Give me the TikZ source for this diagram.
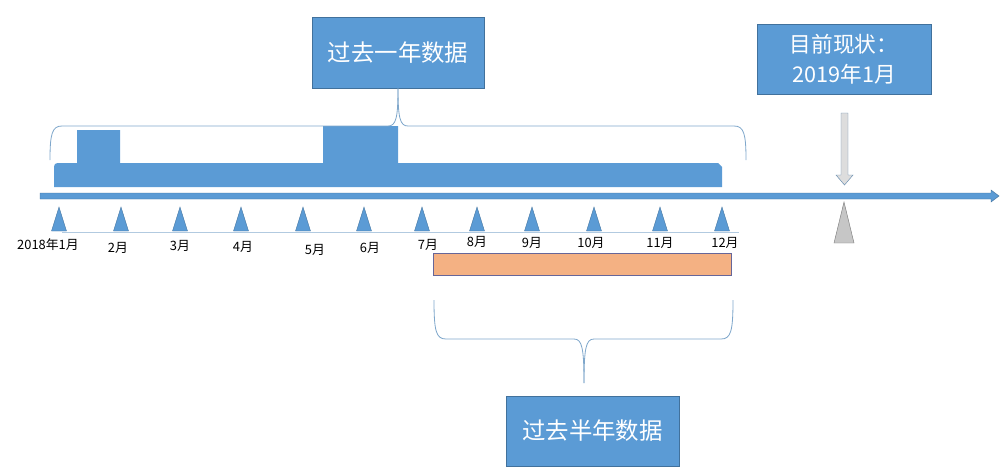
\documentclass[tikz,border=0pt]{standalone}
\usepackage{fontspec}
\setmainfont{Noto Sans CJK SC}
\definecolor{barblue}{HTML}{5B9BD5}
\definecolor{edgeblue}{HTML}{41719C}
\definecolor{bracecol}{HTML}{7FA7CB}
\definecolor{halfbar}{HTML}{F4B183}
\definecolor{nowgray}{HTML}{DDDDDD}

\begin{document}
\begin{tikzpicture}[x=0.03cm, y=-0.03cm,
    infobox/.style={draw=edgeblue, fill=barblue, line width=0.7pt, text=white, align=center, inner sep=0pt},
    tick/.style={fill=barblue, draw=edgeblue, line width=0.3pt},
    month/.style={font=\fontsize{11}{12}\selectfont, inner sep=0pt},
    curly/.style={draw=bracecol, line width=0.7pt}]
\useasboundingbox (0,0) rectangle (1005,474);

% boxes
\node[infobox, minimum width=5.16cm, minimum height=2.13cm, font=\fontsize{20}{24}\selectfont] (year) at (398,52.5) {过去一年数据};
\node[infobox, minimum width=5.22cm, minimum height=2.1cm, font=\fontsize{18.5}{25.5}\selectfont] (now) at (844,59) {目前现状：\\2019年1月};
\node[infobox, minimum width=5.19cm, minimum height=2.1cm, font=\fontsize{20}{24}\selectfont] (half) at (592.5,431) {过去半年数据};

% data bar
\fill[barblue] (54,187) -- (54,167) [rounded corners=3pt] -- (54,163) [sharp corners] -- (77,163) -- (77,130) -- (120,130) -- (120,163) -- (323,163) -- (323,126) -- (398,126) -- (398,163) -- (718,163) -- (722,167) -- (722,187) -- cycle;

% time axis
\filldraw[fill=barblue, draw=edgeblue, line width=0.4pt] (40,193) -- (991,193) -- (991,190) -- (999,196) -- (991,202) -- (991,199) -- (40,199) -- cycle;

% braces
\draw[curly] (50,160) .. controls (50,134) and (52,126) .. (62,126) -- (388,126) .. controls (396,126) and (398,118) .. (year.south);
\draw[curly] (year.south) .. controls (398,118) and (400,126) .. (408,126) -- (734,126) .. controls (744,126) and (746,134) .. (746,160);
\coordinate (htip) at (584,383);
\draw[curly] (434,300) .. controls (434,331) and (436,339) .. (446,339) -- (574,339) .. controls (582,339) and (584,348) .. (htip);
\draw[curly] (htip) .. controls (584,348) and (586,339) .. (594,339) -- (721,339) .. controls (731,339) and (733,331) .. (733,300);

% months
\draw[draw=bracecol!60, line width=0.5pt] (62,232) -- (739,232);
\foreach \x in {59,121,180,241,303,364,422,477,532,594,660,722}
  \draw[tick] (\x,207) -- ++(7.5,24) -- ++(-15,0) -- cycle;
\node[month] (m1) at (48,245) {2018年1月};
\node[month] (m2) at (118,248) {2月};
\node[month] (m3) at (180,246) {3月};
\node[month] (m4) at (243,247) {4月};
\node[month] (m5) at (315,250) {5月};
\node[month] (m6) at (370,248) {6月};
\node[month] (m7) at (428,245) {7月};
\node[month] (m8) at (477,242) {8月};
\node[month] (m9) at (532,243) {9月};
\node[month] (m10) at (591,243) {10月};
\node[month] (m11) at (660,243) {11月};
\node[month] (m12) at (725,243) {12月};

% last half year
\filldraw[fill=halfbar, draw=gray!80!blue, line width=0.5pt] (433,253) rectangle (731,275);

% now marker
\filldraw[fill=nowgray, draw=edgeblue!80, line width=0.4pt] (841,113) -- (848,113) -- (848,175) -- (853,175) -- (844.5,185) -- (836,175) -- (841,175) -- cycle;
\filldraw[fill=gray!45, draw=gray, line width=0.4pt] (844,202) -- (854,243) -- (834,243) -- cycle;
\end{tikzpicture}
\end{document}
